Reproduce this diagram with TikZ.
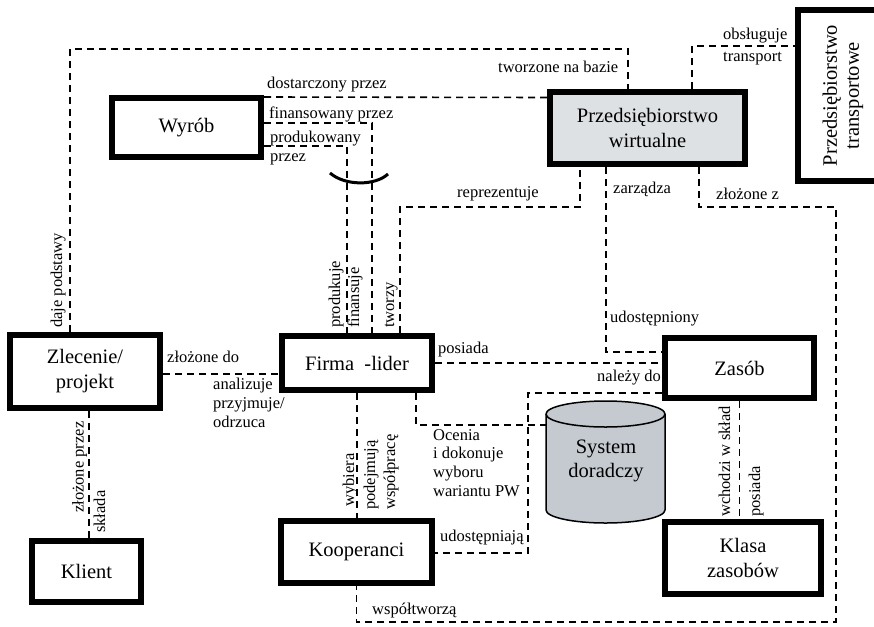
\documentclass[tikz,border=0pt]{standalone}
\usepackage{fontspec}
\setmainfont{Liberation Serif}
\newcommand{\boxfont}{\fontsize{20.5}{25}\selectfont}
\newcommand{\lblfont}{\fontsize{16.5}{19}\selectfont}
\definecolor{pwgray}{RGB}{222,225,228}
\definecolor{cylgray}{RGB}{196,202,208}
\begin{document}
\begin{tikzpicture}[x=1pt,y=-1pt,
  box/.style={draw, line width=6pt, inner sep=0pt, font=\boxfont, align=center},
  dl/.style={line width=1.6pt, dash pattern=on 7pt off 5pt},
  lbl/.style={font=\lblfont, inner sep=0pt, anchor=base west},
  vlbl/.style={lbl, rotate=90}]
\fill[white] (0,0) rectangle (874,626);
\useasboundingbox (0,0) rectangle (874,626);

% boxes
\node[box, minimum width=149pt, minimum height=59pt] (wyrob) at (186.5,127.5) {Wyrób};
\node[box, fill=pwgray, minimum width=195pt, minimum height=72pt] (pw) at (647.5,128) {Przedsiębiorstwo\\wirtualne};
\node[box, rotate=90, minimum width=171pt, minimum height=90pt] (trans) at (843,95.5) {Przedsiębiorstwo\\[-3pt]transportowe};
\node[box, minimum width=150pt, minimum height=73pt] (zlec) at (85,371.5) {Zlecenie/\\projekt};
\node[box, minimum width=150pt, minimum height=54pt] (firma) at (357,363) {Firma\ \ -lider};
\node[box, minimum width=149pt, minimum height=60pt] (zasob) at (739.5,368) {Zasób};
\node[box, minimum width=109pt, minimum height=61pt] (klient) at (86.5,571.5) {Klient};
\node[box, minimum width=151pt, minimum height=62pt] (koop) at (356.5,552) {Kooperanci};
\node[box, minimum width=156pt, minimum height=72pt] (klasa) at (743,558) {Klasa\\zasobów};

% cylinder
\filldraw[fill=cylgray, line width=1.5pt] (546,414) -- (546,510)
  arc[start angle=180, end angle=360, x radius=59.5pt, y radius=13pt] -- (665,414)
  arc[start angle=0, end angle=180, x radius=59.5pt, y radius=13pt] -- cycle;
\draw[line width=1.5pt] (546,414) arc[start angle=180, end angle=360, x radius=59.5pt, y radius=13pt];
\node[font=\boxfont, align=center, inner sep=0pt] (sys) at (606,461) {System\\[-1pt]doradczy};
\coordinate (cylW) at (546,425);

% connectors
\draw[dl] ([xshift=-15pt]zlec.north) -- (70,49) -| ([xshift=-19.5pt]pw.north);
\draw[dl] ([yshift=30.5pt]wyrob.east) -- ([yshift=30.5pt]pw.west);
\draw[dl] ([yshift=4.5pt]wyrob.east) -| ([xshift=15pt]firma.north);
\draw[dl] ([yshift=-18.5pt]wyrob.east) -| ([xshift=-10pt]firma.north);
\draw[line width=3pt] (330,173) .. controls (345,186) and (375,186) .. (388,174);
\draw[dl] ([xshift=43pt]firma.north) |- (580,207) -- ([xshift=-67.5pt]pw.south);
\draw[dl] ([xshift=-41.5pt]pw.south) |- ([yshift=16pt]zasob.west);
\draw[dl] ([xshift=51.5pt]pw.south) |- (836,207) -- (836,622) -| (koop.south);
\draw[dl] ([xshift=44.5pt]pw.north) |- ([yshift=49.5pt]trans.north);
\draw[dl] (firma.east) -- ([yshift=5pt]zasob.west);
\draw[dl] ([yshift=-25pt]zasob.west) -- (528,393) |- ([yshift=-1pt]koop.east);
\draw[dl] ([xshift=59pt]firma.south) |- (cylW);
\draw[dl] ([yshift=-2.5pt]zlec.east) -- ([yshift=-11pt]firma.west);
\draw[dl] (firma.south) -- (firma.south |- koop.north);
\draw[dl] ([xshift=4pt]zlec.south) -- ([xshift=2.5pt]klient.north);
\draw[dl] (zasob.south) -- ([xshift=-3.5pt]klasa.north);

% labels
\node[lbl] (l1) at (267,88) {dostarczony przez};
\node[lbl] (l2) at (269,118) {finansowany przez};
\node[lbl] (l3) at (270,142) {produkowany};
\node[lbl] (l3b) at (270,161) {przez};
\node[lbl] (l4) at (498,72) {tworzone na bazie};
\node[lbl] (l5) at (723,40) {obsługuje};
\node[lbl] (l5b) at (723,61) {transport};
\node[lbl] (l6) at (457,197) {reprezentuje};
\node[lbl] (l7) at (613,193) {zarządza};
\node[lbl] (l8) at (716,199) {złożone z};
\node[lbl] (l9) at (610,322) {udostępniony};
\node[lbl] (l10) at (438,353) {posiada};
\node[lbl] (l11) at (597,381) {należy do};
\node[lbl] (l12) at (167,362) {złożone do};
\node[lbl] (l13) at (213,389) {analizuje};
\node[lbl] (l13b) at (213,408) {przyjmuje/};
\node[lbl] (l13c) at (213,427) {odrzuca};
\node[lbl] (l14) at (433,440) {Ocenia};
\node[lbl] (l14b) at (433,458) {i dokonuje};
\node[lbl] (l14c) at (433,477) {wyboru};
\node[lbl] (l14d) at (433,496) {wariantu PW};
\node[lbl] (l15) at (440,541) {udostępniają};
\node[lbl] (l16) at (372,614) {współtworzą};

\node[vlbl] (v1) at (62,328) {daje podstawy};
\node[vlbl] (v2) at (340,328) {produkuje};
\node[vlbl] (v3) at (359,328) {finansuje};
\node[vlbl] (v4) at (394,328) {tworzy};
\node[vlbl] (v5) at (354,507) {wybiera};
\node[vlbl] (v6) at (375,510) {podejmują};
\node[vlbl] (v7) at (395,510) {współpracę};
\node[vlbl] (v8) at (83.5,513) {złożone przez};
\node[vlbl] (v9) at (105,533) {składa};
\node[vlbl] (v10) at (730,517) {wchodzi w skład};
\node[vlbl] (v11) at (760,517) {posiada};
\end{tikzpicture}
\end{document}
